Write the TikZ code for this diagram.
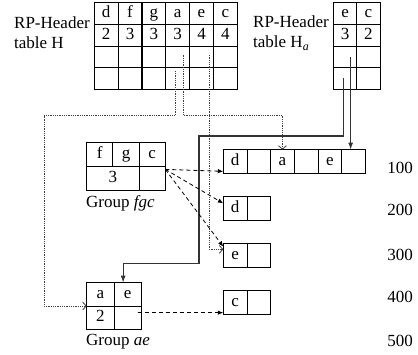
\documentclass[tikz,border=0pt]{standalone}
\usepackage{fontspec}
\setmainfont{Liberation Serif}
\usetikzlibrary{arrows.meta,positioning}

\begin{document}
\begin{tikzpicture}[
x=1pt, y=-1pt,
font=\fontsize{17}{20}\selectfont,
node distance=0pt,
cell/.style={draw, line width=0.9pt, minimum width=23.8pt, minimum height=21.65pt, inner sep=0pt, outer sep=0pt, anchor=north west, text height=11.5pt, text depth=3.7pt},
gcell/.style={cell, minimum width=26.2pt, minimum height=23.65pt},
ecell/.style={cell, minimum width=27.3pt, minimum height=23.3pt},
lcell/.style={cell, minimum width=23.67pt, minimum height=23.3pt},
lab/.style={inner sep=0pt, anchor=west, align=left},
dotarr/.style={densely dotted, line width=0.8pt, black!75, -{Straight Barb[length=3.5pt, width=8pt]}},
dasharr/.style={dash pattern=on 4pt off 3pt, line width=0.8pt, -{Latex[length=5.5pt, width=4.5pt]}},
solarr/.style={line width=1.2pt, black!80, -{Latex[length=7pt, width=5pt]}}
]
\useasboundingbox (0,0) rectangle (418,354);

% header tables
\node[lab] (Hlab) at (14,33) {RP-Header\\table H};
\foreach \k/\n [count=\c] in {d/2,f/3,g/3,a/3,e/4,c/4} {
  \node[cell] (H-1-\c) at ({94.3+(\c-1)*23.83},2.7) {\k};
  \node[cell, below=of H-1-\c] (H-2-\c) {\n};
  \node[cell, below=of H-2-\c] (H-3-\c) {};
  \node[cell, below=of H-3-\c] (H-4-\c) {};
}
\node[lab] (Halab) at (253,33) {RP-Header\\table H\textsubscript{\textit{a}}};
\foreach \k/\n [count=\c] in {e/3,c/2} {
  \node[cell, minimum width=23.3pt] (Ha-1-\c) at ({333.5+(\c-1)*23.3},2.7) {\k};
  \node[cell, minimum width=23.3pt, below=of Ha-1-\c] (Ha-2-\c) {\n};
  \node[cell, minimum width=23.3pt, below=of Ha-2-\c] (Ha-3-\c) {};
  \node[cell, minimum width=23.3pt, below=of Ha-3-\c] (Ha-4-\c) {};
}

% groups
\node[gcell] (fgc-1-1) at (86.7,142.7) {f};
\node[gcell, right=of fgc-1-1] (fgc-1-2) {g};
\node[gcell, right=of fgc-1-2] (fgc-1-3) {c};
\node[gcell, minimum width=52.4pt] (fgc-2-1) at (fgc-1-1.south west) {3};
\node[gcell, below=of fgc-1-3] (fgc-2-3) {};
\node[lab] (fgclab) at (86,203) {Group \textit{fgc}};

\node[ecell] (ae-1-1) at (86.7,282.7) {a};
\node[ecell, right=of ae-1-1] (ae-1-2) {e};
\node[ecell, below=of ae-1-1] (ae-2-1) {2};
\node[ecell, below=of ae-1-2] (ae-2-2) {};
\node[lab] (aelab) at (86,342) {Group \textit{ae}};

% lists
\foreach \k [count=\c] in {d,{},a,{},e,{}}
  \node[lcell] (L1-\c) at ({223.3+(\c-1)*23.67},149.7) {\k};
\node[lcell, below=23.7pt of L1-1] (L2-1) {d};
\node[lcell, right=of L2-1] (L2-2) {};
\node[lcell, below=23.7pt of L2-1] (L3-1) {e};
\node[lcell, right=of L3-1] (L3-2) {};
\node[lcell, below=23.7pt of L3-1] (L4-1) {c};
\node[lcell, right=of L4-1] (L4-2) {};

\node (n100) at (400,168.3) {100};
\node (n200) at (400,210.3) {200};
\node (n300) at (400,255) {300};
\node (n400) at (400,297) {400};
\node (n500) at (400,341) {500};

% links
\coordinate (s2) at ([xshift=5.5pt]Ha-3-1.center);
\coordinate (fgcout) at ([yshift=-3pt]fgc-2-3.north east);
\coordinate (aeout) at ([xshift=10pt, yshift=5pt]ae-2-2.center);
\draw[dotarr] ([xshift=-2.7pt, yshift=7.4pt]H-4-4.center) |- (44.3,115.7) |- (ae-2-1.north west);
\draw[dotarr] ([xshift=5.6pt, yshift=2.2pt]H-3-4.center) -- ++(0,60.7) -| (L1-3.north);
\draw[dotarr] ([xshift=7.5pt, yshift=2pt]H-3-5.center) |- ([yshift=6pt]L3-1.west);
\draw[solarr] ([xshift=-2pt]Ha-4-1.center) |- (199,136) -- (199,263.3) -| ([xshift=-4.5pt]ae-1-2.north);
\draw[solarr] (s2) -- (s2 |- L1-6.north);
\draw[dasharr] (fgcout) -- ([yshift=-10pt]L1-1.west);
\draw[dasharr] (fgcout) -- ([yshift=5pt]L2-1.west);
\draw[dasharr] (fgcout) -- ([yshift=-3pt]L3-1.north west);
\draw[dasharr] (aeout) -- (aeout -| L4-1.west);
\end{tikzpicture}
\end{document}
